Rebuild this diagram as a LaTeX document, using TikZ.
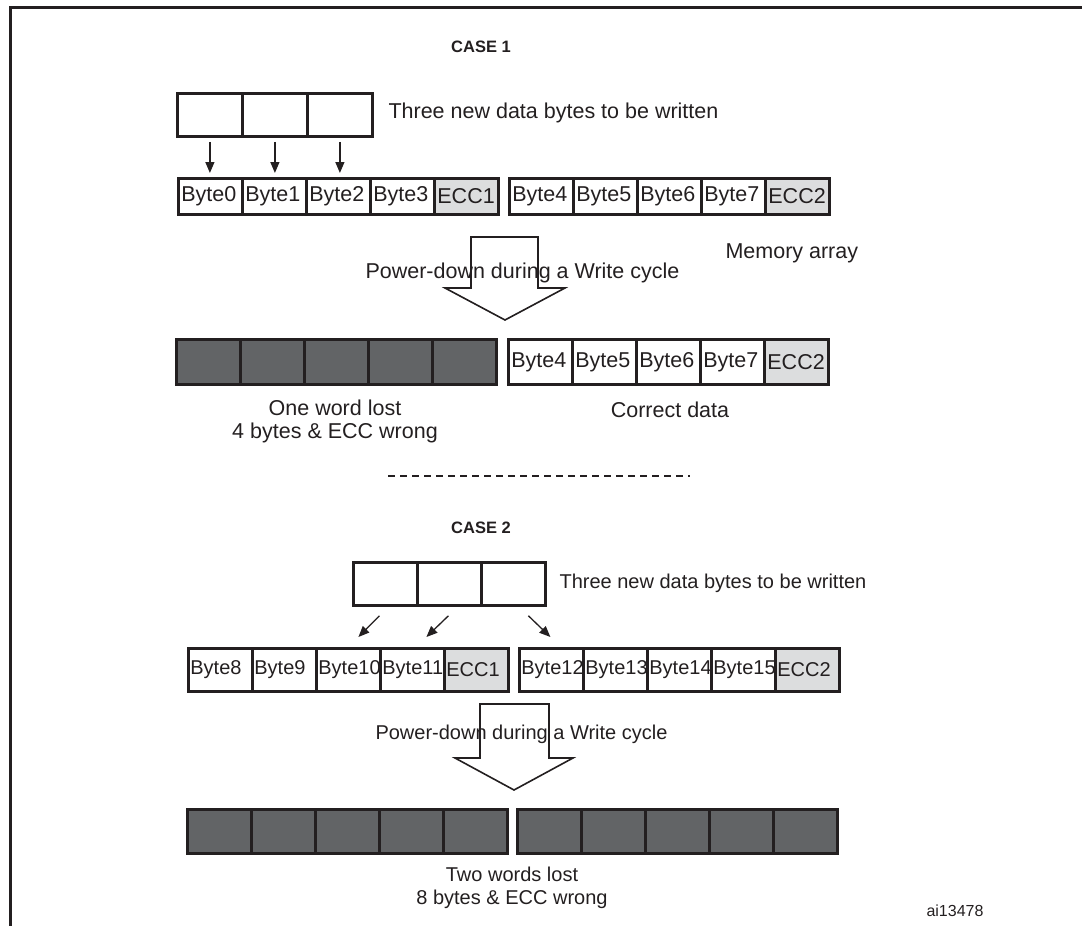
\documentclass[tikz,border=0pt]{standalone}
\usepackage{fontspec}
\setmainfont{Liberation Sans}
\usetikzlibrary{arrows.meta}
\definecolor{ink}{HTML}{231F20}
\definecolor{eccgray}{HTML}{DCDDDE}
\definecolor{lostgray}{HTML}{626466}
\begin{document}
\begin{tikzpicture}[x=1pt,y=-1pt,
  every node/.style={text=ink},
  big/.style={font=\fontsize{21.5}{23}\selectfont},
  mid/.style={font=\fontsize{20}{23}\selectfont},
  cell/.style={draw=ink, line width=2.8pt, minimum width=64pt, inner xsep=3pt,
    inner ysep=0pt, anchor=north west},
  ecc/.style={cell, fill=eccgray},
  lost/.style={cell, fill=lostgray},
  databox/.style={draw=ink, line width=2.8pt, minimum width=65pt, minimum height=43pt,
    inner sep=0pt, anchor=north west},
  conn/.style={draw=ink, line width=1.3pt, -{Triangle[length=11pt,width=9pt]}},
  bigarrow/.style={draw=ink, line width=1.6pt, line join=miter}
]
\useasboundingbox (0,0) rectangle (1082,926);

% outer frame
\draw[ink, line width=3pt] (1082,7) -- (10,7) -- (10,926);

% ---------------- CASE 1 ----------------
\node[font=\bfseries\fontsize{16.5}{20}\selectfont] (case1) at (481,47) {CASE 1};

\foreach \i in {0,1,2}
  \node[databox] (n\i) at (176+65*\i,92) {};
\node[big, anchor=west] (new1) at (385,113) {Three new data bytes to be written};

% memory array, first and second word
\foreach \lbl [count=\i from 0] in {Byte0,Byte1,Byte2,Byte3}
  \node[cell, big, minimum height=36pt] (a\i) at (177+64*\i,177) {\makebox[58pt][l]{\lbl}};
\node[ecc, big, minimum height=36pt] (a4) at (433,177) {\makebox[58pt][l]{ECC1}};
\foreach \lbl [count=\i from 0] in {Byte4,Byte5,Byte6,Byte7}
  \node[cell, big, minimum height=36pt] (b\i) at (508+64*\i,177) {\makebox[58pt][l]{\lbl}};
\node[ecc, big, minimum height=36pt] (b4) at (764,177) {\makebox[58pt][l]{ECC2}};
\node[big, anchor=west] (mem) at (722,253) {Memory array};

\foreach \i in {0,1,2}
  \draw[conn, shorten <=4pt, shorten >=4pt] (n\i.south) -- (n\i.south |- a\i.north);

% power-down arrow
\node[big, anchor=west] (pd1) at (362,273) {Power-down during a Write cycle};
\draw[bigarrow] (471,237) -- (538,237) -- (538,288) -- (565,288) -- (505,320)
  -- (445,288) -- (471,288) -- cycle;

% result of case 1
\foreach \i in {0,...,4}
  \node[lost, minimum height=45pt] (c\i) at (175+64*\i,338) {};
\foreach \lbl [count=\i from 0] in {Byte4,Byte5,Byte6,Byte7}
  \node[cell, big, minimum height=45pt] (d\i) at (507+64*\i,338) {\makebox[58pt][l]{\lbl}};
\node[ecc, big, minimum height=45pt] (d4) at (763,338) {\makebox[58pt][l]{ECC2}};

\node[big, align=center] (lost1) at (335,421) {One word lost\\4 bytes \& ECC wrong};
\node[big] (ok1) at (670,410) {Correct data};

% separator
\coordinate (sepL) at (388,476);
\coordinate (sepR) at (690,476);
\draw[ink, line width=2pt, dash pattern=on 7pt off 5pt] (sepL) -- (sepR);

% ---------------- CASE 2 ----------------
\node[font=\bfseries\fontsize{16.5}{20}\selectfont] (case2) at (481,528) {CASE 2};

\foreach \i in {0,1,2}
  \node[databox, minimum width=64pt] (m\i) at (352+64*\i,561) {};
\node[mid, anchor=west] (new2) at (556,583) {Three new data bytes to be written};

\foreach \lbl [count=\i from 0] in {Byte8,Byte9,Byte10,Byte11}
  \node[cell, mid, inner xsep=2pt, minimum height=43pt] (e\i) at (187+64*\i,647) {\makebox[60pt][l]{\lbl}};
\node[ecc, mid, inner xsep=2pt, minimum height=43pt] (e4) at (443,647) {\makebox[60pt][l]{ECC1}};
\foreach \lbl [count=\i from 0] in {Byte12,Byte13,Byte14,Byte15}
  \node[cell, mid, inner xsep=2pt, minimum height=43pt] (f\i) at (518+64*\i,647) {\makebox[60pt][l]{\lbl}};
\node[ecc, mid, inner xsep=2pt, minimum height=43pt] (f4) at (774,647) {\makebox[60pt][l]{ECC2}};

\draw[conn] ([xshift=-6pt,yshift=-9pt]m0.south) -- ([xshift=10pt,yshift=10pt]e2.north);
\draw[conn] ([xshift=-1pt,yshift=-9pt]m1.south) -- ([xshift=14pt,yshift=10pt]e3.north);
\draw[conn] ([xshift=15pt,yshift=-9pt]m2.south) -- ([xshift=-1pt,yshift=10pt]f0.north);

% power-down arrow
\node[mid, anchor=west] (pd2) at (372,734) {Power-down during a Write cycle};
\draw[bigarrow] (480,704) -- (549,704) -- (549,758) -- (573,758) -- (514,790)
  -- (455,758) -- (480,758) -- cycle;

% result of case 2
\foreach \i in {0,...,4}
  \node[lost, minimum height=44pt] (g\i) at (186+64*\i,808) {};
\foreach \i in {0,...,4}
  \node[lost, minimum height=44pt] (h\i) at (516+64*\i,808) {};

\node[mid, align=center] (lost2) at (512,888) {Two words lost\\8 bytes \& ECC wrong};
\node[font=\fontsize{16}{19}\selectfont, anchor=west] (ref) at (923,911) {ai13478};
\end{tikzpicture}
\end{document}
